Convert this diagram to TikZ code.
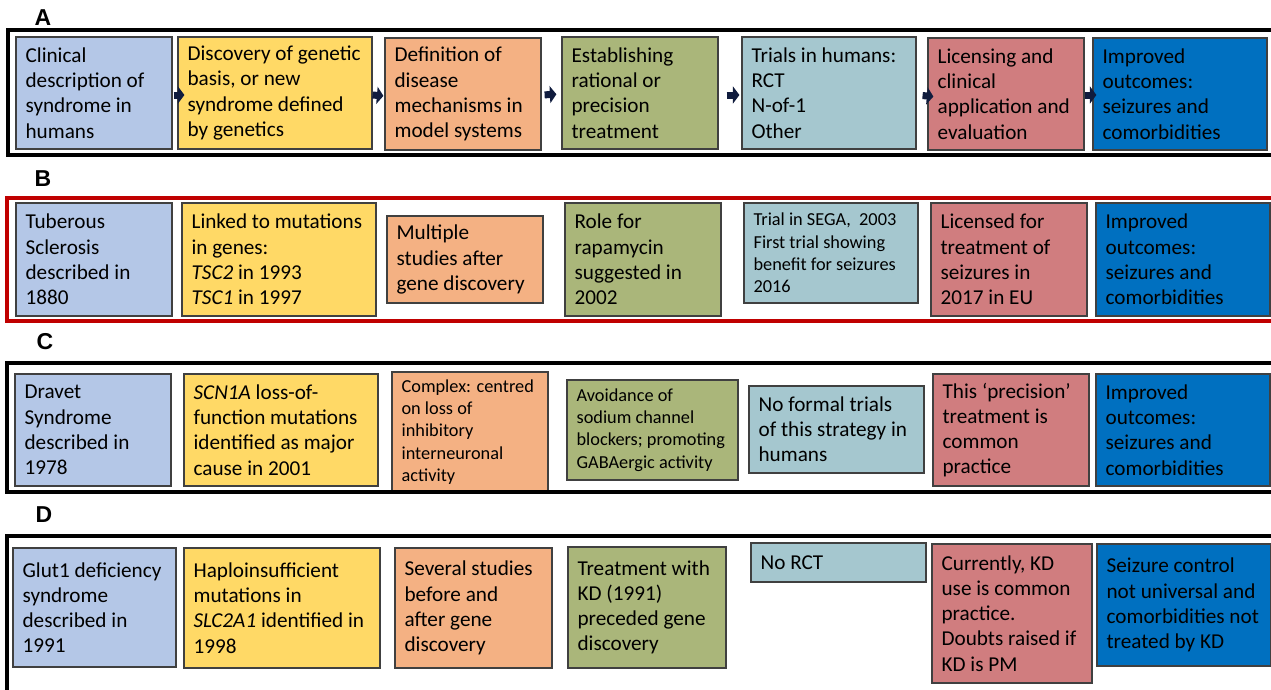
\documentclass[tikz,border=0pt]{standalone}
\usepackage{fontspec}
\setmainfont{Carlito}
\newfontfamily\labfont{Liberation Sans}[BoldFont={Liberation Sans Bold}]
\usetikzlibrary{arrows.meta,fit,calc}
\definecolor{cblue}{RGB}{180,199,231}
\definecolor{cyel}{RGB}{255,217,102}
\definecolor{corg}{RGB}{244,177,131}
\definecolor{cgrn}{RGB}{170,182,122}
\definecolor{cteal}{RGB}{165,199,207}
\definecolor{cpink}{RGB}{208,125,127}
\definecolor{cdblue}{RGB}{0,112,192}
\definecolor{boxline}{RGB}{64,64,64}
\definecolor{navy}{RGB}{16,28,62}
\definecolor{fred}{RGB}{192,0,0}
\tikzset{
  box/.style={draw=boxline, line width=1.2pt, inner sep=0pt},
  txt/.style={anchor=west, align=left, inner sep=0pt, text=black,
    font=\fontsize{21.2}{25.2}\selectfont},
  small/.style={font=\fontsize{18.3}{22.4}\selectfont},
  lab/.style={font=\fontsize{23}{26}\labfont\bfseries, inner sep=0pt},
  frameblk/.style={draw=black, line width=3.2pt},
  framered/.style={draw=fred, line width=4pt},
  blk/.style={draw=navy, line width=7pt, -{Triangle[length=6.5pt,width=17pt]}}
}
\newcommand\bx[6][]{%
  \node[box, fill=#5, fit={(#3) (#4)}] (#2) {};
  \node[txt, #1] (#2t) at ([xshift=10pt]#2.west) {#6};
}
\begin{document}
\begin{tikzpicture}[x=1pt, y=-1pt]
\useasboundingbox (0,0) rectangle (1271,689);
\fill[white] (0,0) rectangle (1271,689);

% labels
\node[lab] (labA) at (43,18) {A};
\node[lab] (labB) at (43,179) {B};
\node[lab] (labC) at (45,342) {C};
\node[lab] (labD) at (44,515) {D};

% Row A
\bx{a1}{16,37}{172,149}{cblue}{Clinical\\description of\\syndrome in\\humans}
\bx{a2}{178,37}{372,149}{cyel}{Discovery of genetic\\basis, or new\\syndrome defined\\by genetics}
\bx{a3}{385,38}{541,150}{corg}{Definition of\\disease\\mechanisms in\\model systems}
\bx{a4}{562,37}{718,149}{cgrn}{Establishing\\rational or\\precision\\treatment}
\bx{a5}{742,37}{916,149}{cteal}{Trials in humans:\\RCT\\N-of-1\\Other}
\bx{a6}{928,38}{1084,150}{cpink}{Licensing and\\clinical\\application and\\evaluation}
\bx{a7}{1093,38}{1267,150}{cdblue}{Improved\\outcomes:\\seizures and\\comorbidities}

\draw[blk, shorten <=1pt, shorten >=-7pt] ([yshift=-2pt]a1.east) -- ([yshift=-2pt]a2.west);
\draw[blk, shorten <=0pt, shorten >=1pt] ([yshift=-2pt]a2.east) -- ([yshift=-2pt]a3.west);
\draw[blk, shorten <=3pt, shorten >=5pt] ([yshift=-1pt]a3.east) -- ([yshift=-1pt]a4.west);
\draw[blk, shorten <=8pt, shorten >=2pt] ([yshift=-2pt]a4.east) -- ([yshift=-2pt]a5.west);
\draw[blk, shorten <=6pt, shorten >=-6pt] ([yshift=-2pt]a5.east) -- ([yshift=-2pt]a6.west);
\draw[blk, shorten <=0pt, shorten >=-4pt] ([yshift=-1pt]a6.east) -- ([yshift=-1pt]a7.west);

% Row B
\bx{b1}{16,203}{172,316}{cblue}{Tuberous\\Sclerosis\\described in\\1880}
\bx{b2}{182,203}{376,316}{cyel}{Linked to mutations\\in genes:\\\textit{TSC2} in 1993\\\textit{TSC1} in 1997}
\bx{b3}{387,216}{543,303}{corg}{Multiple\\studies after\\gene discovery}
\bx{b4}{565,203}{721,316}{cgrn}{Role for\\rapamycin\\suggested in\\2002}
\bx[small]{b5}{744,203}{918,303}{cteal}{Trial in SEGA,\ \ 2003\\First trial showing\\benefit for seizures\\2016}
\bx{b6}{931,203}{1087,316}{cpink}{Licensed for\\treatment of\\seizures in\\2017 in EU}
\bx{b7}{1096,203}{1270,316}{cdblue}{Improved\\outcomes:\\seizures and\\comorbidities}

% Row C
\bx{c1}{15,374}{171,486}{cblue}{Dravet\\Syndrome\\described in\\1978}
\bx{c2}{184,374}{378,486}{cyel}{\textit{SCN1A} loss-of-\\function mutations\\identified as major\\cause in 2001}
\bx[small]{c3}{392,372}{548,492}{corg}{Complex: centred\\on loss of\\inhibitory\\interneuronal\\activity}
\bx[small]{c4}{567,380}{738,480}{cgrn}{Avoidance of\\sodium channel\\blockers; promoting\\GABAergic activity}
\bx{c5}{749,386}{924,473}{cteal}{No formal trials\\of this strategy in\\humans}
\bx{c6}{933,374}{1089,486}{cpink}{This ‘precision’\\treatment is\\common\\practice}
\bx{c7}{1096,374}{1270,486}{cdblue}{Improved\\outcomes:\\seizures and\\comorbidities}

% Row D
\bx{d1}{13,548}{176,667}{cblue}{Glut1 deficiency\\syndrome\\described in\\1991}
\bx{d2}{184,548}{380,668}{cyel}{Haploinsufficient\\mutations in\\\textit{SLC2A1} identified in\\1998}
\bx{d3}{395,548}{552,668}{corg}{Several studies\\before and\\after gene\\discovery}
\bx{d4}{568,547}{726,668}{cgrn}{Treatment with\\KD (1991)\\preceded gene\\discovery}
\bx{d5}{751,543}{926,582}{cteal}{No RCT}
\bx{d6}{932,544}{1092,683}{cpink}{Currently, KD\\use is common\\practice.\\Doubts raised if\\KD is PM}
\bx{d7}{1097,544}{1271,666}{cdblue}{Seizure control\\not universal and\\comorbidities not\\treated by KD}

% frames
\draw[frameblk] (8,30) rectangle (1290,155);
\draw[framered] (7,198) rectangle (1290,321);
\draw[frameblk] (7,363) rectangle (1290,492);
\draw[frameblk] (7,536) rectangle (1290,720);
\end{tikzpicture}
\end{document}
